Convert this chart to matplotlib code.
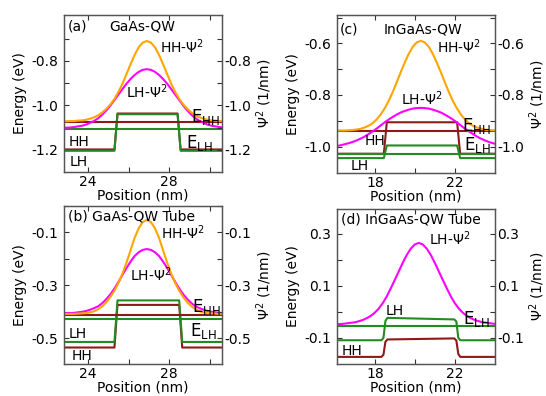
import matplotlib
matplotlib.use("Agg")
import matplotlib.pyplot as plt
from matplotlib.ticker import FixedLocator

plt.rcParams['font.family'] = ['DejaVu Sans']
plt.rcParams['axes.unicode_minus'] = False

# ---- panel (a) GaAs-QW ----
a_x = [22.7, 22.9, 23.1, 23.3, 23.5, 23.7, 23.9, 24.1, 24.3, 24.5, 24.7, 24.9, 25.1, 25.3,
       25.5, 25.7, 25.9, 26.1, 26.3, 26.5, 26.7, 26.9, 27.1, 27.3, 27.5, 27.7, 27.9, 28.1,
       28.3, 28.5, 28.7, 28.9, 29.1, 29.3, 29.5, 29.7, 29.9, 30.1, 30.3, 30.5, 30.7, 30.9]
a_hh_psi = [-1.072, -1.072, -1.071, -1.071, -1.069, -1.068, -1.065, -1.060, -1.054, -1.045,
            -1.032, -1.016, -0.996, -0.971, -0.939, -0.902, -0.858, -0.814, -0.772, -0.738,
            -0.717, -0.710, -0.717, -0.738, -0.772, -0.814, -0.858, -0.902, -0.939, -0.971,
            -0.996, -1.016, -1.032, -1.045, -1.054, -1.060, -1.065, -1.068, -1.069, -1.071,
            -1.071, -1.072]
a_lh_psi = [-1.102, -1.101, -1.100, -1.098, -1.095, -1.092, -1.087, -1.079, -1.070, -1.058,
            -1.042, -1.023, -1.001, -0.976, -0.951, -0.926, -0.902, -0.881, -0.863, -0.849,
            -0.840, -0.837, -0.840, -0.849, -0.863, -0.881, -0.902, -0.926, -0.951, -0.976,
            -1.001, -1.023, -1.042, -1.058, -1.070, -1.079, -1.087, -1.092, -1.095, -1.098,
            -1.100, -1.101]
a_band_x = [22.0, 25.3, 25.45, 28.42, 28.57, 31.0]
a_hh_band = [-1.199, -1.199, -1.037, -1.037, -1.199, -1.199]
a_lh_band = [-1.205, -1.205, -1.04, -1.04, -1.205, -1.205]
a_e_hh = -1.076
a_e_lh = -1.108

# ---- panel (b) GaAs-QW Tube ----
b_x = a_x
b_hh_psi = [-0.408, -0.408, -0.408, -0.408, -0.407, -0.406, -0.405, -0.402, -0.398, -0.390,
            -0.379, -0.364, -0.344, -0.320, -0.291, -0.255, -0.213, -0.167, -0.120, -0.084,
            -0.061, -0.053, -0.061, -0.084, -0.120, -0.167, -0.213, -0.255, -0.291, -0.320,
            -0.344, -0.364, -0.379, -0.390, -0.398, -0.402, -0.405, -0.406, -0.407, -0.408,
            -0.408, -0.408]
b_lh_psi = [-0.406, -0.405, -0.405, -0.404, -0.402, -0.400, -0.397, -0.392, -0.386, -0.379,
            -0.367, -0.352, -0.334, -0.312, -0.287, -0.260, -0.234, -0.210, -0.189, -0.175,
            -0.166, -0.163, -0.166, -0.175, -0.189, -0.210, -0.234, -0.260, -0.287, -0.312,
            -0.334, -0.352, -0.367, -0.379, -0.386, -0.392, -0.397, -0.400, -0.402, -0.404,
            -0.405, -0.405]
b_band_x = [22.0, 25.3, 25.45, 28.5, 28.65, 31.0]
b_hh_band = [-0.535, -0.535, -0.374, -0.374, -0.535, -0.535]
b_lh_band = [-0.514, -0.514, -0.357, -0.357, -0.514, -0.514]
b_e_hh = -0.411
b_e_lh = -0.427

# ---- panel (c) InGaAs-QW ----
c_x = [15.9, 16.1, 16.3, 16.5, 16.7, 16.9, 17.1, 17.3, 17.5, 17.7, 17.9, 18.1, 18.3, 18.5,
       18.7, 18.9, 19.1, 19.3, 19.5, 19.7, 19.9, 20.1, 20.3, 20.5, 20.7, 20.9, 21.1, 21.3,
       21.5, 21.7, 21.9, 22.1, 22.3, 22.5, 22.7, 22.9, 23.1, 23.3, 23.5, 23.7, 23.9, 24.1,
       24.3]
c_hh_psi = [-0.938, -0.938, -0.938, -0.938, -0.937, -0.936, -0.934, -0.931, -0.926, -0.919,
            -0.909, -0.894, -0.875, -0.851, -0.822, -0.788, -0.750, -0.711, -0.674, -0.640,
            -0.613, -0.596, -0.590, -0.596, -0.613, -0.640, -0.674, -0.711, -0.750, -0.788,
            -0.822, -0.851, -0.875, -0.894, -0.909, -0.919, -0.926, -0.931, -0.934, -0.936,
            -0.937, -0.938, -0.938]
c_lh_psi = [-1.000, -0.998, -0.995, -0.991, -0.987, -0.982, -0.976, -0.969, -0.961, -0.951,
            -0.941, -0.930, -0.918, -0.906, -0.895, -0.885, -0.876, -0.868, -0.862, -0.857,
            -0.853, -0.851, -0.850, -0.851, -0.853, -0.857, -0.862, -0.868, -0.876, -0.885,
            -0.895, -0.906, -0.918, -0.930, -0.941, -0.951, -0.961, -0.969, -0.976, -0.982,
            -0.987, -0.991, -0.995]
c_band_x = [15.0, 18.45, 18.6, 22.12, 22.27, 25.0]
c_hh_band = [-1.028, -1.028, -0.906, -0.906, -1.028, -1.028]
c_lh_band = [-1.045, -1.045, -0.996, -0.996, -1.045, -1.045]
c_e_hh = -0.938
c_e_lh = -1.030

# ---- panel (d) InGaAs-QW Tube ----
d_x = [15.8, 16.0, 16.2, 16.4, 16.6, 16.8, 17.0, 17.2, 17.4, 17.6, 17.8, 18.0, 18.2, 18.4,
       18.6, 18.8, 19.0, 19.2, 19.4, 19.6, 19.8, 20.0, 20.2, 20.4, 20.6, 20.8, 21.0, 21.2,
       21.4, 21.6, 21.8, 22.0, 22.2, 22.4, 22.6, 22.8, 23.0, 23.2, 23.4, 23.6, 23.8, 24.0,
       24.2]
d_lh_psi = [-0.048, -0.048, -0.047, -0.046, -0.044, -0.042, -0.040, -0.036, -0.031, -0.024,
            -0.015, -0.003, 0.013, 0.034, 0.060, 0.091, 0.123, 0.156, 0.189, 0.219,
            0.243, 0.259, 0.265, 0.259, 0.243, 0.219, 0.189, 0.156, 0.123, 0.091,
            0.060, 0.034, 0.013, -0.003, -0.015, -0.024, -0.031, -0.036, -0.040, -0.042,
            -0.044, -0.046, -0.047]
d_band_x = [15.0, 18.33, 18.43, 18.53, 18.63, 21.98, 22.08, 22.18, 22.28, 25.0]
d_lh_band = [-0.109, -0.109, -0.100, -0.035, -0.023, -0.029, -0.037, -0.100, -0.109, -0.109]
d_hh_band = [-0.173, -0.173, -0.165, -0.115, -0.106, -0.102, -0.110, -0.162, -0.173, -0.173]
d_e_lh = -0.053

ORANGE = '#ffa500'
MAGENTA = '#ff00ff'
GREEN = '#228b22'
DRED = '#8b1a1a'
LW = 1.5

fig = plt.figure(figsize=(5.46, 3.96), dpi=100)


def setup(pos, xlim, ylim, xmaj, xmin, ymaj, ymin):
    ax = fig.add_axes(pos)
    ax.set_xlim(*xlim)
    ax.set_ylim(*ylim)
    ax.xaxis.set_major_locator(FixedLocator(xmaj))
    ax.xaxis.set_minor_locator(FixedLocator(xmin))
    ax.yaxis.set_major_locator(FixedLocator(ymaj))
    ax.yaxis.set_minor_locator(FixedLocator(ymin))
    ax.set_yticklabels(['%.1f' % v for v in ymaj])
    ax.tick_params(which='both', direction='in', top=True, right=True,
                   length=3.5, width=0.8, labelsize=10, colors='#333333',
                   labelcolor='black')
    ax.tick_params(axis='x', pad=2)
    ax.tick_params(axis='y', pad=4)
    for s in ax.spines.values():
        s.set_color('#555555')
        s.set_linewidth(0.9)
    ax.set_xlabel('Position (nm)', fontsize=10, labelpad=0)
    ax.set_ylabel('Energy (eV)', fontsize=10, labelpad=3)
    ax2 = ax.twinx()
    ax2.set_ylim(*ylim)
    ax2.yaxis.set_major_locator(FixedLocator(ymaj))
    ax2.yaxis.set_minor_locator(FixedLocator(ymin))
    ax2.set_yticklabels(['%.1f' % v for v in ymaj])
    ax2.tick_params(which='both', direction='in', length=3.5, width=0.8,
                    labelsize=10, colors='#333333', labelcolor='black', pad=2)
    ax2.set_ylabel(r'Ψ$^2$ (1/nm)', fontsize=10, labelpad=2)
    for s in ax2.spines.values():
        s.set_color('#555555')
        s.set_linewidth(0.9)
    return ax


def label(ax, x, y, s, size=10):
    ax.text(x, y, s, transform=ax.transAxes, ha='left', va='center', fontsize=size)


# (a)
ax = setup([0.117, 0.566, 0.289, 0.396], (22.8, 30.6), (-1.30, -0.593),
           [24, 28], [26, 30], [-0.8, -1.0, -1.2], [-0.7, -0.9, -1.1])
ax.plot(a_band_x, a_hh_band, color=DRED, lw=LW)
ax.plot(a_band_x, a_lh_band, color=GREEN, lw=LW)
ax.axhline(a_e_hh, color=DRED, lw=LW)
ax.axhline(a_e_lh, color=GREEN, lw=LW)
ax.plot(a_x, a_lh_psi, color=MAGENTA, lw=LW)
ax.plot(a_x, a_hh_psi, color=ORANGE, lw=LW)
label(ax, 0.027, 0.926, '(a)')
label(ax, 0.29, 0.926, 'GaAs-QW')
label(ax, 0.608, 0.80, r'HH-Ψ$^2$')
label(ax, 0.392, 0.513, r'LH-Ψ$^2$')
label(ax, 0.805, 0.35, r'E$_{\rm HH}$', 12)
label(ax, 0.775, 0.185, r'E$_{\rm LH}$', 12)
label(ax, 0.03, 0.189, 'HH')
label(ax, 0.038, 0.061, 'LH')

# (b)
ax = setup([0.117, 0.081, 0.289, 0.399], (22.8, 30.6), (-0.597, 0.0),
           [24, 28], [26, 30], [-0.1, -0.3, -0.5], [0.0, -0.2, -0.4])
ax.plot(b_band_x, b_hh_band, color=DRED, lw=LW)
ax.plot(b_band_x, b_lh_band, color=GREEN, lw=LW)
ax.axhline(b_e_hh, color=DRED, lw=LW)
ax.axhline(b_e_lh, color=GREEN, lw=LW)
ax.plot(b_x, b_lh_psi, color=MAGENTA, lw=LW)
ax.plot(b_x, b_hh_psi, color=ORANGE, lw=LW)
label(ax, 0.027, 0.932, '(b) GaAs-QW Tube')
label(ax, 0.618, 0.83, r'HH-Ψ$^2$')
label(ax, 0.418, 0.567, r'LH-Ψ$^2$')
label(ax, 0.81, 0.36, r'E$_{\rm HH}$', 12)
label(ax, 0.80, 0.21, r'E$_{\rm LH}$', 12)
label(ax, 0.03, 0.192, 'LH')
label(ax, 0.05, 0.053, 'HH')

# (c)
ax = setup([0.617, 0.563, 0.289, 0.399], (16.1, 24.0), (-1.103, -0.49),
           [18, 22], [20], [-0.6, -0.8, -1.0], [-0.5, -0.7, -0.9])
ax.plot(c_band_x, c_hh_band, color=DRED, lw=LW)
ax.axhline(c_e_hh, color=DRED, lw=LW)
ax.plot(c_band_x, c_lh_band, color=GREEN, lw=LW)
ax.axhline(c_e_lh, color=GREEN, lw=LW)
ax.plot(c_x, c_lh_psi, color=MAGENTA, lw=LW)
ax.plot(c_x, c_hh_psi, color=ORANGE, lw=LW)
label(ax, 0.017, 0.909, '(c)')
label(ax, 0.297, 0.909, 'InGaAs-QW')
label(ax, 0.633, 0.80, r'HH-Ψ$^2$')
label(ax, 0.405, 0.469, r'LH-Ψ$^2$')
label(ax, 0.795, 0.30, r'E$_{\rm HH}$', 12)
label(ax, 0.805, 0.175, r'E$_{\rm LH}$', 12)
label(ax, 0.175, 0.20, 'HH')
label(ax, 0.084, 0.042, 'LH')

# (d)
ax = setup([0.617, 0.081, 0.289, 0.391], (16.1, 24.0), (-0.2, 0.395),
           [18, 22], [20], [0.3, 0.1, -0.1], [0.2, 0.0])
ax.plot(d_band_x, d_hh_band, color=DRED, lw=LW)
ax.plot(d_band_x, d_lh_band, color=GREEN, lw=LW)
ax.axhline(d_e_lh, color=GREEN, lw=LW)
ax.plot(d_x, d_lh_psi, color=MAGENTA, lw=LW)
label(ax, 0.023, 0.931, '(d) InGaAs-QW Tube')
label(ax, 0.582, 0.806, r'LH-Ψ$^2$')
label(ax, 0.312, 0.344, 'LH')
label(ax, 0.80, 0.29, r'E$_{\rm LH}$', 12)
label(ax, 0.03, 0.086, 'HH')

fig.savefig('out.png', dpi=100)
